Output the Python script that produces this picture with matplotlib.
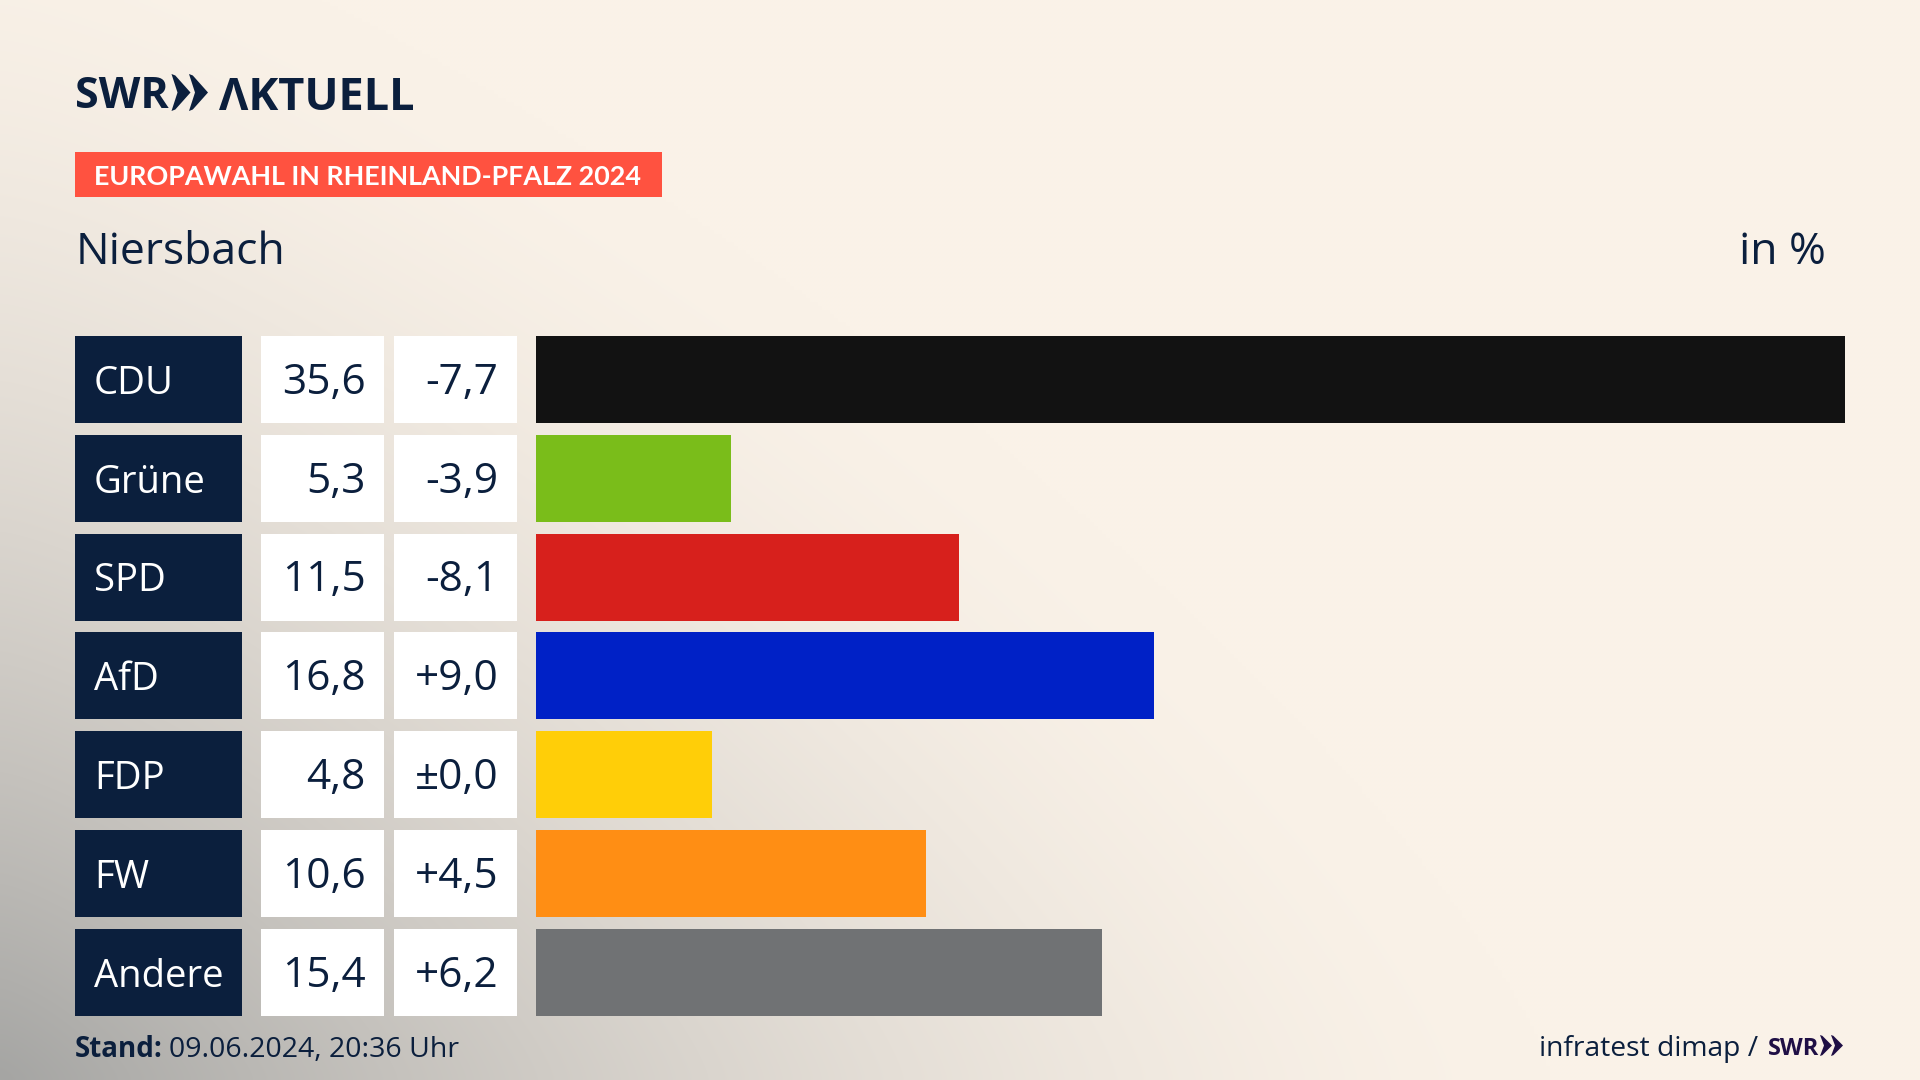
import numpy as np
import matplotlib
matplotlib.use("Agg")
import matplotlib.pyplot as plt
from matplotlib.patches import Polygon, Rectangle

parties = ["CDU", "Grüne", "SPD", "AfD", "FDP", "FW", "Andere"]
values = [35.6, 5.3, 11.5, 16.8, 4.8, 10.6, 15.4]
changes = ["-7,7", "-3,9", "-8,1", "+9,0", "±0,0", "+4,5", "+6,2"]
value_labels = ["35,6", "5,3", "11,5", "16,8", "4,8", "10,6", "15,4"]
colors = ["#121212", "#7ABD1A", "#D7201C", "#0021C6", "#FFCE08", "#FF8E14", "#707274"]

NAVY = "#0B1F3D"
FONT = "Open Sans"
W, H = 1920, 1080
fig = plt.figure(figsize=(W / 100, H / 100), dpi=100)

def axpx(x0, y0, x1, y1, **kw):
    a = fig.add_axes([x0 / W, 1 - y1 / H, (x1 - x0) / W, (y1 - y0) / H], **kw)
    a.axis("off")
    return a

# background wash
bg = axpx(0, 0, W, H)
yy, xx = np.mgrid[0:H:270j, 0:W:480j]
p = 1.3
d = ((xx / 1550) ** p + ((H - yy) / 1200) ** p) ** (1 / p)
t = np.clip(1 - d, 0, 1) ** 1.6
cream = np.array([250, 242, 232]) / 255
grey = np.array([165, 165, 163]) / 255
img = cream + (grey - cream) * t[..., None]
bg.imshow(img, extent=[0, W, H, 0], aspect="auto", interpolation="bilinear")

# pixel overlay for header and footer
ov = axpx(0, 0, W, H, zorder=5)
ov.set_xlim(0, W)
ov.set_ylim(H, 0)
ov.patch.set_alpha(0)

def chev(a, x, ytop, ybot, w, th, color):
    mid = (ytop + ybot) / 2
    a.add_patch(Polygon([(x, ytop), (x + w * 0.2, ytop + (ybot - ytop) * 0.04), (x + w, mid),
                         (x + w * 0.2, ybot - (ybot - ytop) * 0.04), (x, ybot), (x + w - th, mid)],
                        closed=True, fc=color, ec="none"))

ov.text(75, 108.5, "SWR", family=FONT, weight="bold", fontsize=31, color=NAVY, va="baseline", ha="left")
chev(ov, 171.5, 74, 111, 19, 13, NAVY)
chev(ov, 189, 74, 111, 19, 13, NAVY)
ov.text(219, 109.5, "ΛKTUELL", family=FONT, weight="bold", fontsize=32.5, color=NAVY, va="baseline", ha="left")

ov.add_patch(Rectangle((75, 152), 587, 45, fc="#FF5240", ec="none"))
ov.text(94, 185, "EUROPAWAHL IN RHEINLAND-PFALZ 2024", family="Lato", weight="bold", fontsize=19.4, color="white", va="baseline", ha="left")
ov.text(76, 264, "Niersbach", family=FONT, fontsize=32, color=NAVY, va="baseline", ha="left")
ov.text(1825.5, 264, "in %", family=FONT, fontsize=32, color=NAVY, va="baseline", ha="right")

ov.text(75, 1057, "Stand:", family=FONT, weight="bold", fontsize=20, color=NAVY, va="baseline", ha="left")
ov.text(169, 1057, "09.06.2024, 20:36 Uhr", family=FONT, fontsize=20.5, color=NAVY, va="baseline", ha="left")
ov.text(1758, 1056, "infratest dimap /", family=FONT, fontsize=20.3, color=NAVY, va="baseline", ha="right")
ov.text(1768, 1055, "SWR", family=FONT, weight="bold", fontsize=17, color="#1F0F45", va="baseline", ha="left")
chev(ov, 1820, 1035, 1056, 12, 8, "#1F0F45")
chev(ov, 1831, 1035, 1056, 12, 8, "#1F0F45")

# rows: one unit per party, pitch 98.8 px, bar height 87 px
n = len(parties)
top, pitch, barh_px = 336.0, 98.8, 87.0
ytop = top - (pitch - barh_px) / 2
ybot = ytop + pitch * n
ylim = (n - 0.5, -0.5)
ys = np.arange(n)
rel = barh_px / pitch

ax_lab = axpx(75, ytop, 242, ybot)
ax_val = axpx(261, ytop, 384, ybot)
ax_chg = axpx(394, ytop, 517, ybot)
ax_bar = axpx(536, ytop, 1845, ybot)

for a, col in ((ax_lab, NAVY), (ax_val, "white"), (ax_chg, "white")):
    a.barh(ys, [1] * n, height=rel, color=col, linewidth=0)
    a.set_xlim(0, 1)
    a.set_ylim(*ylim)

ax_bar.barh(ys, values, height=rel, color=colors, linewidth=0)
ax_bar.set_xlim(0, max(values))
ax_bar.set_ylim(*ylim)

cap_offset = 0.145
for i in range(n):
    ax_lab.text(19 / 167, i + cap_offset, parties[i], family=FONT, fontsize=27.5, color="white", va="baseline", ha="left")
    ax_val.text(1 - 18.5 / 123, i + cap_offset, value_labels[i], family=FONT, fontsize=30.5, color=NAVY, va="baseline", ha="right")
    ax_chg.text(1 - 18.5 / 123, i + cap_offset, changes[i], family=FONT, fontsize=30.5, color=NAVY, va="baseline", ha="right")

fig.savefig("out.png", dpi=100)
